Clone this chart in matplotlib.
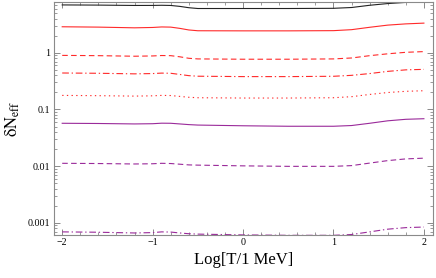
import numpy as np
import matplotlib
matplotlib.use("Agg")
import matplotlib.pyplot as plt
from matplotlib.ticker import FixedLocator, FuncFormatter, LogLocator, MultipleLocator

plt.rcParams['font.family'] = ['Liberation Serif', 'DejaVu Serif']
plt.rcParams['mathtext.fontset'] = 'stix'

# log10(T / 1 MeV)
log_t = [-2.0, -1.6, -1.2, -1.0, -0.9, -0.8, -0.7, -0.6, -0.5, 0.0, 0.5, 1.0, 1.2, 1.4, 1.6, 1.8, 2.0]

black_solid = [7.0, 6.95, 6.85, 6.86, 6.9, 6.85, 6.6, 6.25, 6.05, 6.05, 6.05, 6.1, 6.3, 6.9, 7.4, 7.75, 7.9]
red_solid = [2.88, 2.84, 2.76, 2.80, 2.86, 2.84, 2.70, 2.53, 2.45, 2.44, 2.44, 2.46, 2.56, 2.82, 3.08, 3.24, 3.34]
red_dashed = [0.90, 0.89, 0.87, 0.88, 0.895, 0.89, 0.85, 0.80, 0.78, 0.77, 0.77, 0.78, 0.81, 0.89, 0.96, 1.02, 1.05]
red_dashdot = [0.44, 0.435, 0.425, 0.43, 0.438, 0.435, 0.415, 0.395, 0.386, 0.38, 0.38, 0.385, 0.40, 0.43, 0.47, 0.50, 0.51]
red_dotted = [0.177, 0.175, 0.172, 0.174, 0.177, 0.176, 0.170, 0.164, 0.161, 0.159, 0.159, 0.161, 0.168, 0.184, 0.199, 0.209, 0.214]
purple_solid = [0.057, 0.0565, 0.0555, 0.056, 0.0572, 0.057, 0.0555, 0.054, 0.053, 0.0515, 0.0505, 0.0505, 0.052, 0.057, 0.063, 0.067, 0.0686]
purple_dashed = [0.0112, 0.0111, 0.0109, 0.0110, 0.0112, 0.0111, 0.0108, 0.0105, 0.0104, 0.0101, 0.0099, 0.0099, 0.0102, 0.0113, 0.0125, 0.0134, 0.0138]
purple_dashdot = [6.9e-4, 6.8e-4, 6.6e-4, 6.7e-4, 6.9e-4, 6.85e-4, 6.6e-4, 6.4e-4, 6.3e-4, 6.1e-4, 6.0e-4, 6.0e-4, 6.2e-4, 6.9e-4, 7.7e-4, 8.2e-4, 8.4e-4]

y_ticks = [1, 0.1, 0.01, 0.001]
y_tick_labels = ['1', '0.1', '0.01', '0.001']

red = '#ff2a2a'
purple = '#9a2a9a'
dash = (0, (5, 3))
dashdot = (0, (6, 2.5, 1.2, 2.5))
dots = (0, (1.2, 3))

fig = plt.figure(figsize=(4.36, 2.78), dpi=100)
ax = fig.add_axes([0.124, 0.155, 0.869, 0.838])

ax.plot(log_t, black_solid, color='#222222', lw=0.8)
ax.plot(log_t, red_solid, color=red, lw=0.8)
ax.plot(log_t, red_dashed, color=red, lw=0.8, ls=dash)
ax.plot(log_t, red_dashdot, color=red, lw=0.8, ls=dashdot)
ax.plot(log_t, red_dotted, color=red, lw=0.8, ls=dots)
ax.plot(log_t, purple_solid, color=purple, lw=0.8)
ax.plot(log_t, purple_dashed, color=purple, lw=0.8, ls=dash)
ax.plot(log_t, purple_dashdot, color=purple, lw=0.8, ls=dashdot)

ax.set_yscale('log')
ax.set_xlim(-2.09, 2.1)
ax.set_ylim(6.1e-4, 7.9)

ax.xaxis.set_major_locator(MultipleLocator(1))
ax.xaxis.set_minor_locator(MultipleLocator(0.2))
ax.xaxis.set_major_formatter(FuncFormatter(lambda v, p: f'{v:.0f}'.replace('-', '\u2212')))
ax.yaxis.set_major_locator(FixedLocator(y_ticks))
ax.yaxis.set_major_formatter(FuncFormatter(
    lambda v, p: y_tick_labels[y_ticks.index(min(y_ticks, key=lambda t: abs(t - v)))]))
ax.yaxis.set_minor_locator(LogLocator(base=10, subs=np.arange(2, 10)))
ax.yaxis.set_minor_formatter(FuncFormatter(lambda v, p: ''))

for s in ax.spines.values():
    s.set_color('#8a8a8a')
    s.set_linewidth(0.8)
ax.tick_params(which='both', direction='in', top=True, right=True,
               color='#8a8a8a', labelsize=7.2, pad=2.5)
ax.tick_params(which='major', length=4, width=0.7)
ax.tick_params(which='minor', length=2, width=0.6)

ax.set_xlabel('Log[T/1 MeV]', fontsize=12, labelpad=3)
ax.set_ylabel('$\\mathrm{\u03b4N}_{\\mathrm{eff}}$', fontsize=12, labelpad=4)

fig.savefig('out.png', dpi=100)
